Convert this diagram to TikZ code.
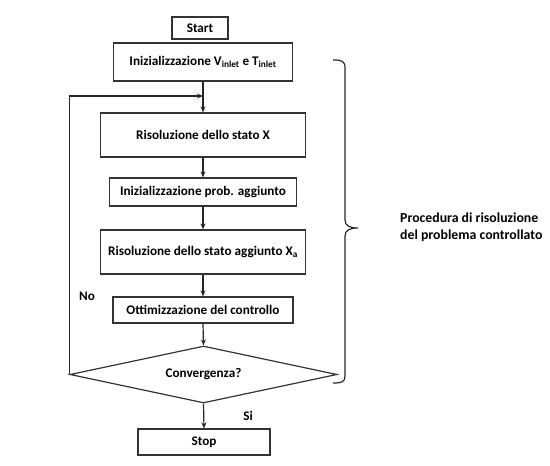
\documentclass[tikz,border=0pt]{standalone}
\usepackage{fontspec}
\setmainfont{Carlito}
\usetikzlibrary{shapes.geometric,arrows.meta}
\begin{document}
\begin{tikzpicture}[x=1pt,y=-1pt,
  every node/.style={font=\bfseries\fontsize{13.2}{16}\selectfont, text=black},
  box/.style={draw=black!80, line width=1.2pt, rectangle, inner sep=0pt},
  conn/.style={draw=black!85, line width=1.2pt},
  arr/.style={conn, -{Stealth[length=6pt,width=5pt]}},
  lbl/.style={inner sep=0pt}
]
\useasboundingbox (0,0) rectangle (550,466);
\node[box, minimum width=56pt, minimum height=22pt] (start) at (200,28) {Start};
\node[box, minimum width=179pt, minimum height=38pt] (init) at (203,62) {Inizializzazione V\textsubscript{inlet} e T\textsubscript{inlet}};
\node[box, minimum width=205pt, minimum height=44pt] (ris) at (203,135) {Risoluzione dello stato X};
\node[box, minimum width=187pt, minimum height=28pt] (iniagg) at (203,192) {Inizializzazione prob. aggiunto};
\node[box, minimum width=205pt, minimum height=44pt] (risagg) at (203,252) {Risoluzione dello stato aggiunto X\textsubscript{a}};
\node[box, minimum width=180pt, minimum height=26pt] (ott) at (203,310) {Ottimizzazione del controllo};
\node[box, diamond, minimum width=267pt, minimum height=57pt, aspect=4.7] (conv) at (203.5,374.5) {Convergenza?};
\node[box, minimum width=132pt, minimum height=26pt] (stop) at (204,442) {Stop};
\coordinate (j) at (203,96);
\draw[conn] (init.south) -- (j);
\draw[arr] (j) -- (ris.north);
\draw[arr] (ris.south) -- (iniagg.north);
\draw[arr] (iniagg.south) -- (risagg.north);
\draw[arr] (risagg.south) -- (ott.north);
\draw[arr] (ott.south) -- (conv.north);
\draw[arr] (conv.south) -- (stop.north);
\draw[arr] (conv.west) -- (conv.west |- j) -- (j);
\node[lbl] (no) at (87,296) {No};
\node[lbl] (si) at (248,416) {Si};
\draw[conn] (333,60) .. controls (342,60) and (345,61) .. (345,68) -- (345,220)
  .. controls (345,226) and (350,228) .. (358,228)
  .. controls (350,228) and (345,230) .. (345,236) -- (345,376)
  .. controls (345,382) and (342,383) .. (333,383);
\node[lbl, align=left, anchor=west, font=\bfseries\fontsize{13.8}{17}\selectfont] (proc) at (400,227) {Procedura di risoluzione\\del problema controllato};
\end{tikzpicture}
\end{document}
